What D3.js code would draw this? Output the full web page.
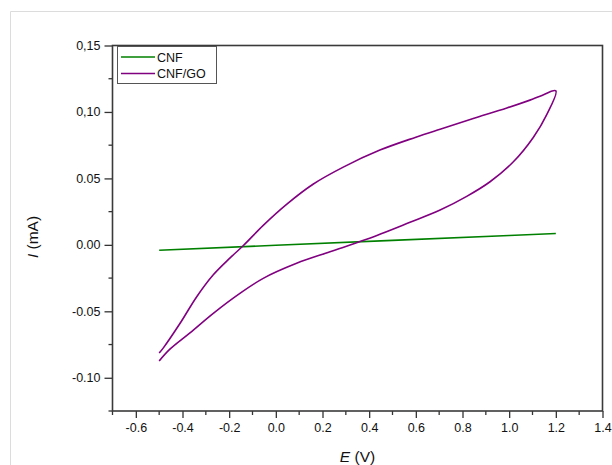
<!DOCTYPE html>
<html>
<head>
<meta charset="utf-8">
<script src="https://cdn.jsdelivr.net/npm/d3@7"></script>
<style>
  body { margin: 0; background: #fff; }
  text { font-family: "Liberation Sans", Arial, sans-serif; fill: #111; }
</style>
</head>
<body>
<svg width="612" height="465"></svg>
<script>
// data (E in V, I in mA)
var cnfE = [-0.5, 0.0, 0.5, 1.0, 1.2];
var cnfI = [-0.004, -0.0003, 0.0034, 0.0071, 0.0086];

// CNF/GO: anodic branch -0.5 -> 1.2 then cathodic branch back to -0.5
var cnfgoE = [-0.5, -0.482, -0.411, -0.339, -0.268, -0.196, -0.139, -0.054, 0.046, 0.161, 0.289, 0.446, 0.6, 0.704, 0.846, 0.99, 1.089, 1.132, 1.2,
              1.161, 1.104, 1.018, 0.918, 0.818, 0.704, 0.575, 0.389, 0.232, 0.089, -0.054, -0.154, -0.268, -0.368, -0.454, -0.5];
var cnfgoI = [-0.0814, -0.0775, -0.0592, -0.0390, -0.0225, -0.0098, -0.0005, 0.0147, 0.0305, 0.0458, 0.0585, 0.0713, 0.0810, 0.0870, 0.0950, 0.1030, 0.1089, 0.1118, 0.1159,
              0.0980, 0.0810, 0.0625, 0.0475, 0.0365, 0.0262, 0.0170, 0.0042, -0.0052, -0.0139, -0.0252, -0.0365, -0.0515, -0.0662, -0.0785, -0.0874];

var seriesNames = ["CNF", "CNF/GO"];
var seriesColors = ["#008000", "#800080"];

var xTicks = [-0.6, -0.4, -0.2, 0.0, 0.2, 0.4, 0.6, 0.8, 1.0, 1.2, 1.4];
var xTickLabels = ["-0.6", "-0.4", "-0.2", "0.0", "0.2", "0.4", "0.6", "0.8", "1.0", "1.2", "1.4"];
var xMinor = [-0.7, -0.5, -0.3, -0.1, 0.1, 0.3, 0.5, 0.7, 0.9, 1.1, 1.3];
var yTicks = [0.15, 0.10, 0.05, 0.0, -0.05, -0.10];
var yTickLabels = ["0,15", "0,10", "0.05", "0.00", "-0.05", "-0.10"];
var yMinor = [0.125, 0.075, 0.025, -0.025, -0.075, -0.125];

var svg = d3.select("svg");

// faint outer frame of the screenshot
svg.append("path")
  .attr("d", "M10.5,465 V11.5 H612")
  .attr("fill", "none")
  .attr("stroke", "#dcdcdc")
  .attr("stroke-width", 1);

// plot box edges (named to avoid window.top)
var pLeft = 112.5, pRight = 602.5, pTop = 45.5, pBottom = 411;

var x = d3.scaleLinear().domain([-0.7, 1.4]).range([pLeft, pRight]);
var y = d3.scaleLinear().domain([-0.125, 0.15]).range([pBottom, pTop]);

// bottom axis
var xAxis = d3.axisBottom(x).tickValues(xTicks)
  .tickFormat(function(d, i) { return xTickLabels[i]; })
  .tickSizeInner(7).tickSizeOuter(0).tickPadding(5);
var gx = svg.append("g").attr("transform", "translate(0," + pBottom + ")").call(xAxis);
gx.selectAll(".tick text").attr("font-size", 12.5);
gx.selectAll("line").attr("stroke", "#333").attr("stroke-width", 1.3);
gx.select(".domain").remove();
svg.append("g").selectAll("line").data(xMinor).enter().append("line")
  .attr("x1", function(d) { return x(d); })
  .attr("x2", function(d) { return x(d); })
  .attr("y1", pBottom).attr("y2", pBottom + 4)
  .attr("stroke", "#333").attr("stroke-width", 1.3);

// left axis
var yAxis = d3.axisLeft(y).tickValues(yTicks)
  .tickFormat(function(d, i) { return yTickLabels[i]; })
  .tickSizeInner(8).tickSizeOuter(0).tickPadding(4);
var gy = svg.append("g").attr("transform", "translate(" + pLeft + ",0)").call(yAxis);
gy.selectAll(".tick text").attr("font-size", 12.5);
gy.selectAll("line").attr("stroke", "#333").attr("stroke-width", 1.3);
gy.select(".domain").remove();
svg.append("g").selectAll("line").data(yMinor).enter().append("line")
  .attr("y1", function(d) { return y(d); })
  .attr("y2", function(d) { return y(d); })
  .attr("x1", pLeft).attr("x2", pLeft - 4)
  .attr("stroke", "#333").attr("stroke-width", 1.3);

// plot frame
svg.append("rect")
  .attr("x", pLeft).attr("y", pTop)
  .attr("width", pRight - pLeft).attr("height", pBottom - pTop)
  .attr("fill", "none").attr("stroke", "#3a3a3a").attr("stroke-width", 1.6);

// curves
var line = d3.line()
  .x(function(d) { return x(d[0]); })
  .y(function(d) { return y(d[1]); });

var cnf = d3.zip(cnfE, cnfI);
var cnfgo = d3.zip(cnfgoE, cnfgoI);

svg.append("path").datum(cnf)
  .attr("d", line).attr("fill", "none")
  .attr("stroke", seriesColors[0]).attr("stroke-width", 1.6);

svg.append("path").datum(cnfgo)
  .attr("d", line.curve(d3.curveCatmullRom.alpha(0.5))).attr("fill", "none")
  .attr("stroke", seriesColors[1]).attr("stroke-width", 1.6)
  .attr("stroke-linejoin", "round");

// legend
var lg = svg.append("g");
lg.append("rect")
  .attr("x", 117.5).attr("y", 46.5).attr("width", 99).attr("height", 37)
  .attr("fill", "#fff").attr("stroke", "#555").attr("stroke-width", 1);
seriesNames.forEach(function(name, i) {
  var yy = 57 + i * 16.5;
  lg.append("line").attr("x1", 121).attr("x2", 155)
    .attr("y1", yy).attr("y2", yy)
    .attr("stroke", seriesColors[i]).attr("stroke-width", 1.5);
  lg.append("text").attr("x", 157).attr("y", yy + 4.5)
    .attr("font-size", 12.5).text(name);
});

// axis titles
var xt = svg.append("text")
  .attr("x", (pLeft + pRight) / 2).attr("y", 462)
  .attr("text-anchor", "middle").attr("font-size", 15.5);
xt.append("tspan").attr("font-style", "italic").text("E");
xt.append("tspan").text(" (V)");

var yt = svg.append("text")
  .attr("transform", "translate(38,237) rotate(-90)")
  .attr("text-anchor", "middle").attr("font-size", 15.5);
yt.append("tspan").attr("font-style", "italic").text("I");
yt.append("tspan").text(" (mA)");
</script>
</body>
</html>
